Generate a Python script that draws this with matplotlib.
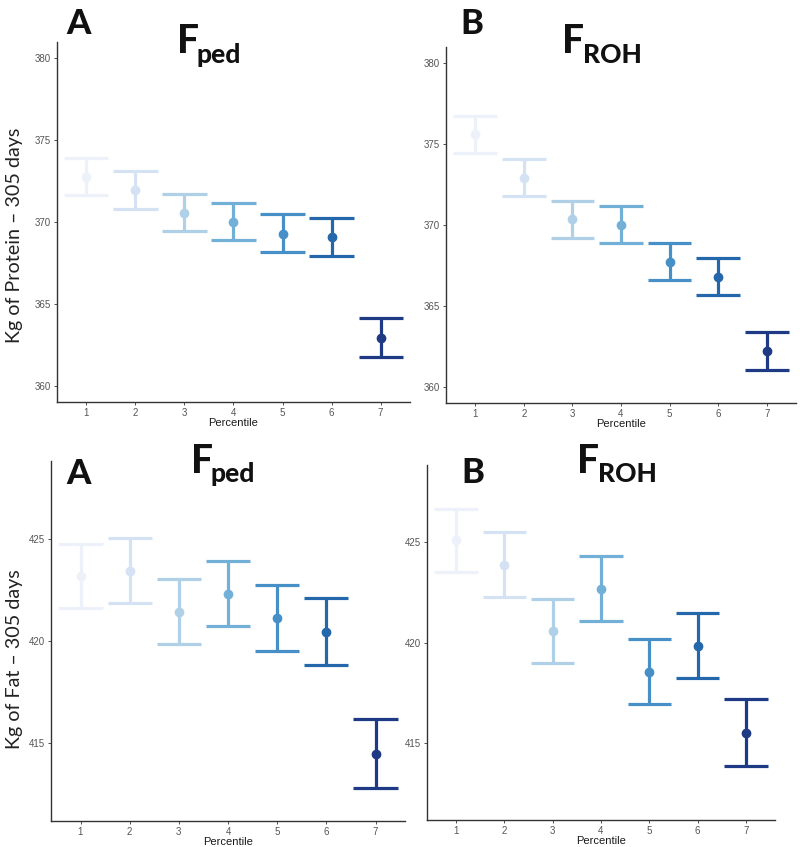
import numpy as np
import matplotlib
matplotlib.use("Agg")
import matplotlib.pyplot as plt

# percentile classes on the x axis
percentile = [1, 2, 3, 4, 5, 6, 7]
colors = ["#edf2fa", "#d4e2f3", "#b0d0e8", "#72b0d8", "#4690c7", "#2468ab", "#1e3a85"]

# Kg of protein, F_ped
prot_ped_mean = [372.75, 371.96, 370.56, 370.01, 369.28, 369.10, 362.92]
prot_ped_lo = [371.63, 370.82, 369.44, 368.89, 368.14, 367.94, 361.73]
prot_ped_hi = [373.89, 373.10, 371.72, 371.17, 370.46, 370.26, 364.12]

# Kg of protein, F_ROH
prot_roh_mean = [375.61, 372.92, 370.36, 370.01, 367.69, 366.79, 362.19]
prot_roh_lo = [374.48, 371.79, 369.21, 368.88, 366.58, 365.66, 361.05]
prot_roh_hi = [376.72, 374.07, 371.49, 371.16, 368.88, 367.96, 363.38]

# Kg of fat, F_ped
fat_ped_mean = [423.18, 423.42, 421.42, 422.32, 421.11, 420.46, 414.50]
fat_ped_lo = [421.59, 421.85, 419.83, 420.71, 419.50, 418.82, 412.82]
fat_ped_hi = [424.76, 425.02, 423.03, 423.93, 422.74, 422.10, 416.19]

# Kg of fat, F_ROH
fat_roh_mean = [425.10, 423.86, 420.58, 422.67, 418.55, 419.85, 415.53]
fat_roh_lo = [423.48, 422.28, 418.98, 421.09, 416.93, 418.23, 413.89]
fat_roh_hi = [426.63, 425.46, 422.16, 424.29, 420.15, 421.47, 417.19]

W, H = 800, 847
fig = plt.figure(figsize=(W / 100, H / 100), dpi=100)


def px_axes(left, right, top, bottom):
    return fig.add_axes([left / W, 1 - bottom / H, (right - left) / W, (bottom - top) / H])


def panel(ax, mean, lo, hi, ylim, yticks):
    for i, x in enumerate(percentile):
        c = colors[i]
        ax.vlines(x, lo[i], hi[i], color=c, lw=2.3, zorder=2)
        ax.hlines([lo[i], hi[i]], x - 0.45, x + 0.45, color=c, lw=2.3, zorder=2)
        ax.plot(x, mean[i], "o", color=c, ms=6, zorder=3)
    ax.set_xlim(0.4, 7.6)
    ax.set_ylim(*ylim)
    ax.set_xticks(percentile)
    ax.set_yticks(yticks)
    for s in ["top", "right"]:
        ax.spines[s].set_visible(False)
    for s in ["left", "bottom"]:
        ax.spines[s].set_color("#333333")
        ax.spines[s].set_linewidth(1.0)
    ax.tick_params(length=2.5, width=0.6, color="#333333", labelsize=7,
                   labelcolor="#555555", pad=2)
    for lab in ax.get_xticklabels() + ax.get_yticklabels():
        lab.set_family("Liberation Sans")
    ax.set_xlabel("Percentile", fontsize=8, family="Liberation Sans", color="#1a1a1a", labelpad=0)


ax1 = px_axes(57, 410, 42, 402)
panel(ax1, prot_ped_mean, prot_ped_lo, prot_ped_hi, (359.0, 381.0), [360, 365, 370, 375, 380])
ax2 = px_axes(446, 796, 47, 403)
panel(ax2, prot_roh_mean, prot_roh_lo, prot_roh_hi, (359.0, 381.0), [360, 365, 370, 375, 380])
ax3 = px_axes(51, 405, 461, 821)
panel(ax3, fat_ped_mean, fat_ped_lo, fat_ped_hi, (411.2, 428.8), [415, 420, 425])
ax4 = px_axes(427, 775, 465, 820)
panel(ax4, fat_roh_mean, fat_roh_lo, fat_roh_hi, (411.2, 428.8), [415, 420, 425])


def ftext(x, y, s, size, **kw):
    fig.text(x / W, 1 - y / H, s, fontsize=size, family="Lato", fontweight="black",
             color="#111111", va="baseline", **kw)


# panel letters and F subscripts (pixel positions of the baselines)
ftext(78, 34, "A", 25, ha="center")
ftext(177, 53, "F", 28)
ftext(197, 63, "ped", 19)
ftext(472, 34, "B", 25, ha="center")
ftext(562, 53, "F", 28)
ftext(583, 63, "ROH", 19)
ftext(79, 484, "A", 25, ha="center")
ftext(191, 473, "F", 28)
ftext(211, 482, "ped", 19)
ftext(473, 483, "B", 25, ha="center")
ftext(577, 473, "F", 28)
ftext(598, 482, "ROH", 19)

fig.text(15 / W, 1 - 235 / H, "Kg of Protein \u2013 305 days", rotation=90, fontsize=14.2,
         family="Lato", color="#222222", ha="center", va="center")
fig.text(15 / W, 1 - 659 / H, "Kg of Fat \u2013 305 days", rotation=90, fontsize=14.2,
         family="Lato", color="#222222", ha="center", va="center")

fig.savefig("out.png", dpi=100)
